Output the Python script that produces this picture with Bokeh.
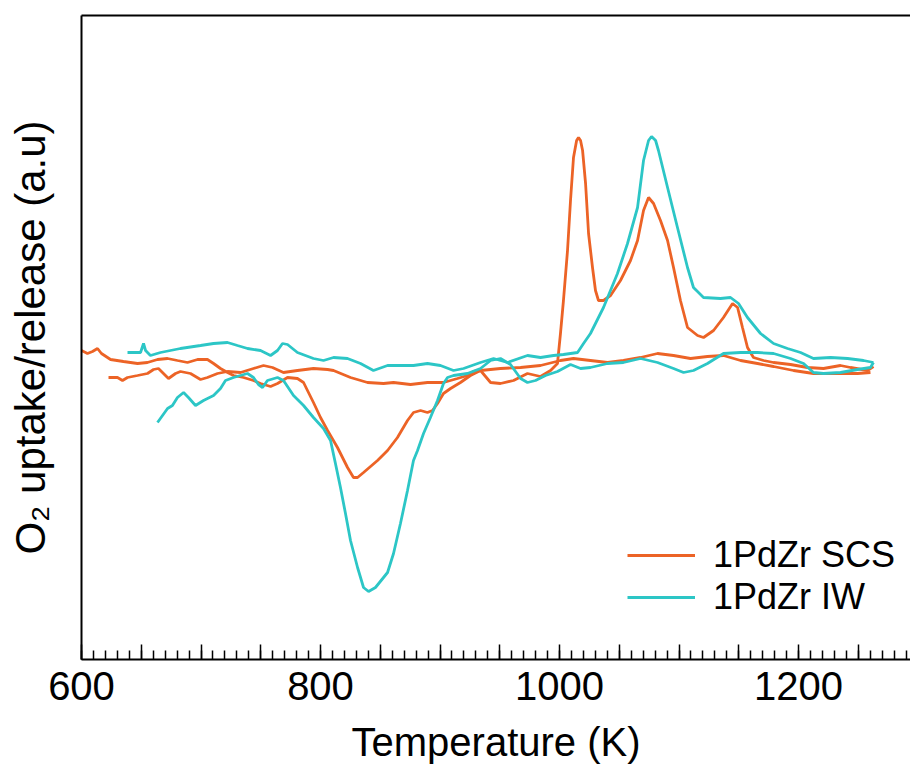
from bokeh.plotting import figure
from bokeh.models import Range1d, LinearAxis, FixedTicker, Legend, LegendItem
from bokeh.embed import file_html
from bokeh.resources import INLINE

# ---------------- data ----------------
# 1PdZr SCS, heating branch (O2 release peaks)
scs_heat_T = [622.6, 630.1, 634.3, 638.5, 646.9, 655.2, 660.3, 664.4, 668.6, 672.8, 678.7, 682.8,
              691.2, 699.6, 705.4, 713.8, 722.2, 733.1, 743.9, 752.3, 759.8, 769.0, 780.7, 794.1,
              805.9, 810.9, 825.1, 839.3, 852.7, 861.1, 875.3, 889.5, 902.9, 914.6, 923.0, 928.0,
              933.9, 942.3, 950.6, 961.5, 973.2, 984.1, 992.5, 998.3, 1000.8, 1003.3, 1006.7, 1009.2,
              1011.7, 1014.3, 1015.9, 1017.6, 1019.3, 1021.8, 1024.3, 1027.6, 1030.1, 1032.6, 1036.8,
              1042.7, 1051.0, 1059.4, 1065.3, 1070.3, 1074.5, 1078.7, 1084.5, 1090.4, 1095.4, 1101.2,
              1107.1, 1115.5, 1120.5, 1128.9, 1137.2, 1144.8, 1149.0, 1153.1, 1157.3, 1162.3, 1170.7,
              1179.1, 1193.3, 1207.5, 1220.9, 1235.1, 1243.5, 1257.7, 1262.7]
scs_heat_S = [-0.12, -0.12, -0.15, -0.12, -0.10, -0.08, -0.04, -0.03, -0.08, -0.13, -0.08, -0.06,
              -0.08, -0.14, -0.12, -0.08, -0.06, -0.07, -0.03, 0.00, -0.02, -0.07, -0.05, -0.03,
              -0.04, -0.05, -0.12, -0.17, -0.18, -0.17, -0.19, -0.17, -0.17, -0.13, -0.10, -0.06,
              -0.05, -0.17, -0.18, -0.15, -0.08, -0.11, -0.05, 0.02, 0.32, 0.65, 1.15, 1.65,
              2.08, 2.25, 2.28, 2.25, 2.15, 1.82, 1.32, 0.98, 0.75, 0.65, 0.65,
              0.70, 0.85, 1.05, 1.25, 1.55, 1.68, 1.62, 1.45, 1.25, 0.98, 0.65,
              0.38, 0.30, 0.28, 0.35, 0.48, 0.62, 0.58, 0.38, 0.18, 0.08, 0.05,
              0.03, 0.01, -0.02, -0.03, 0.00, -0.02, -0.05, -0.01]

# 1PdZr SCS, cooling branch (O2 uptake dip)
scs_cool_T = [600.0, 605.0, 609.2, 613.4, 616.7, 624.3, 635.1, 646.9, 655.2, 663.6, 672.0, 680.3,
              688.7, 697.1, 705.4, 710.5, 716.3, 722.2, 727.2, 735.6, 743.9, 749.8, 758.2, 764.0,
              772.4, 780.7, 785.8, 789.1, 794.1, 800.0, 805.9, 814.2, 822.6, 827.6, 831.0, 836.0,
              847.7, 856.1, 864.4, 872.8, 877.8, 883.7, 889.5, 893.7, 897.9, 902.9, 908.8, 917.1,
              925.5, 933.9, 950.6, 967.4, 984.1, 1000.8, 1011.7, 1025.9, 1040.2, 1053.5, 1067.8,
              1082.0, 1095.4, 1109.6, 1123.8, 1137.2, 1151.5, 1165.7, 1179.1, 1195.8, 1212.5,
              1229.3, 1249.4, 1260.2]
scs_cool_S = [0.15, 0.12, 0.14, 0.17, 0.12, 0.06, 0.04, 0.02, 0.03, 0.06, 0.07, 0.05,
              0.03, 0.06, 0.06, 0.02, -0.03, -0.07, -0.10, -0.12, -0.15, -0.18, -0.21, -0.18,
              -0.12, -0.13, -0.17, -0.25, -0.37, -0.52, -0.65, -0.82, -1.02, -1.12, -1.12, -1.07,
              -0.95, -0.85, -0.72, -0.55, -0.47, -0.45, -0.47, -0.45, -0.38, -0.28, -0.23, -0.17,
              -0.10, -0.05, -0.03, -0.02, 0.00, 0.05, 0.07, 0.05, 0.03, 0.05, 0.08,
              0.12, 0.10, 0.07, 0.09, 0.10, 0.05, 0.02, -0.01, -0.05, -0.08,
              -0.08, -0.08, -0.07]

# 1PdZr IW, heating branch
iw_heat_T = [638.5, 649.4, 651.9, 653.6, 657.7, 666.1, 682.8, 699.6, 710.5, 722.2, 730.5, 738.9,
             749.8, 758.2, 764.0, 768.2, 772.4, 780.7, 794.1, 802.5, 810.9, 822.6, 833.5, 844.3,
             856.1, 866.9, 877.8, 889.5, 900.4, 911.3, 919.7, 933.9, 944.8, 956.5, 973.2, 984.1,
             995.0, 1003.3, 1015.1, 1020.1, 1025.9, 1036.8, 1048.5, 1056.9, 1065.3, 1070.3, 1074.5,
             1077.0, 1080.4, 1082.8, 1090.4, 1098.7, 1107.1, 1112.1, 1120.5, 1134.7, 1143.1,
             1149.8, 1157.3, 1168.2, 1179.1, 1190.8, 1201.7, 1212.5, 1226.8, 1241.0, 1254.4, 1262.7]
iw_heat_S = [0.13, 0.13, 0.22, 0.15, 0.10, 0.13, 0.17, 0.20, 0.22, 0.23, 0.20, 0.17,
             0.15, 0.10, 0.15, 0.22, 0.21, 0.13, 0.07, 0.05, 0.08, 0.07, 0.02, -0.05,
             0.00, 0.00, 0.00, 0.02, 0.00, -0.05, -0.03, 0.03, 0.07, 0.03, 0.10, 0.08,
             0.10, 0.11, 0.13, 0.22, 0.32, 0.58, 0.92, 1.22, 1.58, 2.05, 2.25,
             2.29, 2.25, 2.15, 1.78, 1.38, 0.98, 0.78, 0.68, 0.67, 0.68,
             0.62, 0.48, 0.32, 0.22, 0.17, 0.13, 0.07, 0.08, 0.07, 0.05, 0.03]

# 1PdZr IW, cooling branch
iw_cool_T = [663.6, 667.8, 672.0, 676.1, 680.3, 685.4, 689.5, 695.4, 702.1, 710.5, 716.3, 720.5,
             727.2, 738.9, 743.9, 748.1, 751.5, 755.6, 764.0, 769.0, 777.4, 785.8, 794.1, 802.5,
             808.4, 812.5, 816.7, 820.9, 825.1, 831.0, 836.0, 840.2, 846.0, 856.1, 861.1, 866.9,
             872.8, 877.8, 881.2, 886.2, 892.0, 897.9, 902.9, 906.3, 911.3, 923.0, 933.9, 942.3,
             950.6, 959.0, 967.4, 973.2, 979.9, 988.3, 998.3, 1009.2, 1017.6, 1025.9, 1040.2,
             1053.5, 1067.8, 1082.0, 1095.4, 1103.8, 1112.1, 1123.8, 1137.2, 1151.5, 1165.7,
             1179.1, 1193.3, 1204.2, 1212.5, 1220.9, 1235.1, 1249.4, 1260.2, 1262.7]
iw_cool_S = [-0.57, -0.50, -0.43, -0.40, -0.32, -0.27, -0.32, -0.40, -0.35, -0.30, -0.23, -0.15,
             -0.12, -0.08, -0.12, -0.19, -0.22, -0.15, -0.12, -0.15, -0.30, -0.40, -0.52, -0.63,
             -0.75, -0.98, -1.22, -1.48, -1.75, -2.02, -2.22, -2.26, -2.22, -2.07, -1.88, -1.58,
             -1.25, -0.95, -0.85, -0.68, -0.52, -0.35, -0.18, -0.12, -0.10, -0.08, -0.03, 0.05,
             0.07, 0.01, -0.13, -0.17, -0.15, -0.10, -0.06, 0.01, -0.03, -0.02, 0.02,
             0.03, 0.07, 0.03, -0.03, -0.07, -0.05, 0.02, 0.12, 0.13, 0.13,
             0.12, 0.07, 0.02, -0.07, -0.08, -0.07, -0.04, -0.02, 0.03]

series_names = ["1PdZr SCS", "1PdZr IW"]
x_labelled_ticks = [600, 800, 1000, 1200]
x_mid_ticks = [600, 650, 700, 750, 800, 850, 900, 950, 1000, 1050, 1100, 1150, 1200, 1250]
x_minor_ticks = list(range(600, 1300, 10))

ORANGE = "#EC6326"
CYAN = "#2CC6C6"
FONT = "Liberation Sans"

p = figure(width=910, height=767, output_backend="svg", toolbar_location=None,
           x_range=Range1d(600, 1293.7), y_range=Range1d(-2.94, 3.50),
           min_border_left=81, min_border_right=0, min_border_top=15, min_border_bottom=108,
           x_axis_location=None, y_axis_location=None)
p.outline_line_color = None
p.xgrid.visible = False
p.ygrid.visible = False
p.background_fill_color = "white"
p.border_fill_color = "white"

# bottom axis
xa = LinearAxis(ticker=FixedTicker(ticks=x_mid_ticks, minor_ticks=x_minor_ticks))
xa.major_label_overrides = {t: (str(t) if t in x_labelled_ticks else "") for t in x_mid_ticks}
xa.axis_line_width = 2
xa.axis_line_color = "black"
xa.major_tick_in = 15
xa.major_tick_out = 0
xa.major_tick_line_width = 1.5
xa.minor_tick_in = 9
xa.minor_tick_out = 0
xa.minor_tick_line_width = 1.5
xa.major_label_text_font = FONT
xa.major_label_text_font_size = "40px"
xa.major_label_text_color = "black"
xa.major_label_standoff = 12
xa.axis_label = "Temperature (K)"
xa.axis_label_text_font = FONT
xa.axis_label_text_font_size = "40px"
xa.axis_label_text_font_style = "normal"
xa.axis_label_text_color = "black"
xa.axis_label_standoff = 17
p.add_layout(xa, "below")

# left axis (frame line + label only)
ya = LinearAxis(ticker=FixedTicker(ticks=[]))
ya.axis_line_width = 2
ya.axis_line_color = "black"
ya.major_tick_line_color = None
ya.minor_tick_line_color = None
ya.major_label_text_font_size = "0px"
ya.axis_label = "O\u2082 uptake/release (a.u)"
ya.axis_label_text_font = FONT
ya.axis_label_text_font_size = "42px"
ya.axis_label_text_font_style = "normal"
ya.axis_label_text_color = "black"
ya.axis_label_standoff = 28
p.add_layout(ya, "left")

# top frame line
ta = LinearAxis(ticker=FixedTicker(ticks=[]))
ta.axis_line_width = 2
ta.axis_line_color = "black"
ta.major_tick_line_color = None
ta.minor_tick_line_color = None
ta.major_label_text_font_size = "0px"
ta.axis_label_standoff = 0
p.add_layout(ta, "above")

r1 = p.line(scs_heat_T, scs_heat_S, line_color=ORANGE, line_width=2.8)
p.line(scs_cool_T, scs_cool_S, line_color=ORANGE, line_width=2.8)
r2 = p.line(iw_heat_T, iw_heat_S, line_color=CYAN, line_width=2.8)
p.line(iw_cool_T, iw_cool_S, line_color=CYAN, line_width=2.8)

legend = Legend(items=[LegendItem(label=series_names[0], renderers=[r1]),
                       LegendItem(label=series_names[1], renderers=[r2])],
                location=(546, 41))
legend.label_text_font = FONT
legend.label_text_font_size = "36px"
legend.label_text_color = "black"
legend.glyph_width = 68
legend.glyph_height = 40
legend.label_height = 40
legend.label_standoff = 18
legend.spacing = 0
legend.padding = 0
legend.margin = 0
legend.border_line_color = None
legend.background_fill_alpha = 0
p.add_layout(legend, "center")

open("out.html", "w").write(file_html(p, INLINE))
